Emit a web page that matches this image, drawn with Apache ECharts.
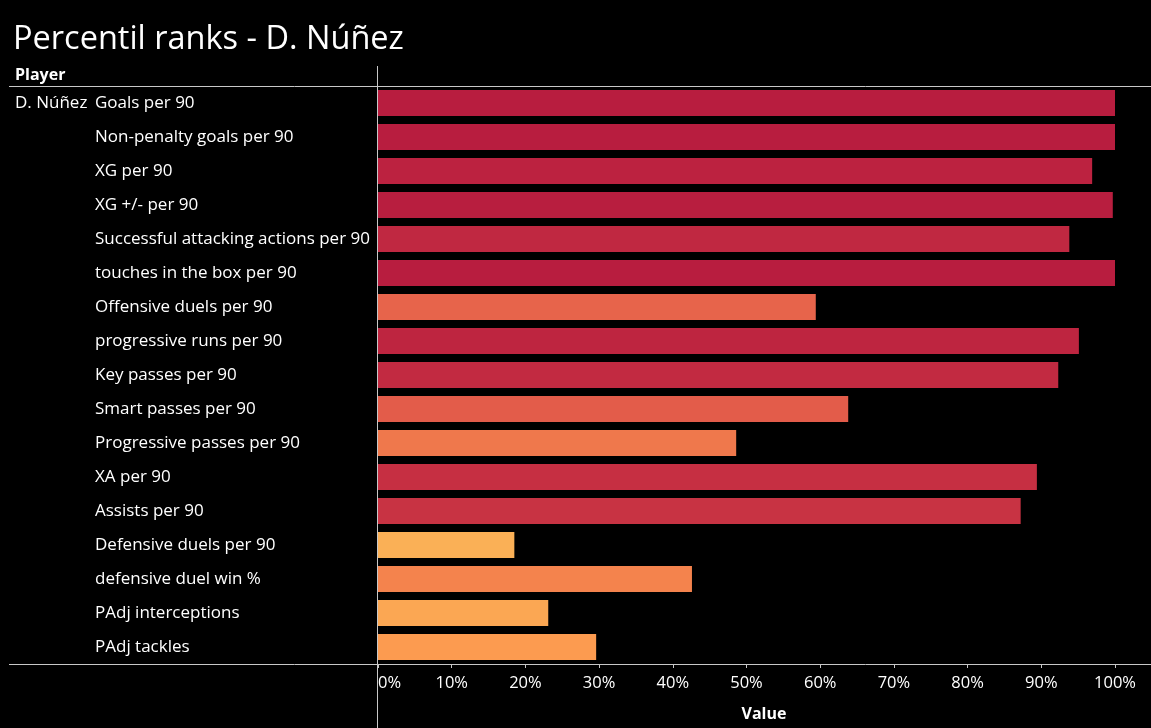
<!DOCTYPE html>
<html>
<head>
<meta charset="utf-8">
<script src="https://cdn.jsdelivr.net/npm/echarts@6/dist/echarts.min.js"></script>
<style>
html,body{margin:0;padding:0;background:#000;}
#chart{width:1151px;height:728px;}
</style>
</head>
<body>
<div id="chart"></div>
<script>
const playerName = 'D. Núñez';
const metrics = [
  'Goals per 90',
  'Non-penalty goals per 90',
  'XG per 90',
  'XG +/- per 90',
  'Successful attacking actions per 90',
  'touches in the box per 90',
  'Offensive duels per 90',
  'progressive runs per 90',
  'Key passes per 90',
  'Smart passes per 90',
  'Progressive passes per 90',
  'XA per 90',
  'Assists per 90',
  'Defensive duels per 90',
  'defensive duel win %',
  'PAdj interceptions',
  'PAdj tackles'
];
const percentiles = [100, 100, 96.9, 99.7, 93.8, 100, 59.4, 95.1, 92.3, 63.8, 48.6, 89.4, 87.2, 18.5, 42.6, 23.1, 29.6];
const colorStops = ['#ffd062', '#fcc15b', '#faad55', '#fc9a50', '#f6874d', '#ee764c', '#e7634b', '#dc5149', '#d14146', '#c52e42', '#b81d3f'];

const FONT = '"Open Sans"';
const chart = echarts.init(document.getElementById('chart'));
const lineColor = '#c8c8c8';

chart.setOption({
  backgroundColor: '#000',
  animation: false,
  title: {
    text: 'Percentil ranks - ' + playerName,
    left: 8, top: 18,
    textStyle: {color: '#fff', fontFamily: FONT, fontSize: 32.5, fontWeight: 'normal'}
  },
  grid: {left: 378, right: 36, top: 86, bottom: 64, containLabel: false},
  visualMap: {
    show: false, type: 'continuous', min: 0, max: 100, dimension: 0,
    inRange: {color: colorStops}
  },
  xAxis: {
    type: 'value', min: 0, max: 100, interval: 10,
    splitLine: {show: false},
    axisLine: {show: false},
    axisTick: {show: true, length: 4, lineStyle: {color: lineColor}},
    axisLabel: {
      formatter: '{value}%', color: '#fff', fontFamily: FONT, fontSize: 16.5, margin: 11,
      alignMinLabel: 'left', alignMaxLabel: 'center'
    }
  },
  yAxis: {
    type: 'category', data: metrics, inverse: true,
    axisLine: {show: false}, axisTick: {show: false},
    axisLabel: {color: '#fff', fontFamily: FONT, fontSize: 17, align: 'left', margin: 283}
  },
  series: [{
    type: 'bar', data: percentiles, barWidth: 26
  }],
  graphic: [
    {type: 'line', shape: {x1: 9, y1: 86.5, x2: 1151, y2: 86.5}, style: {stroke: lineColor, lineWidth: 1}, z: 100},
    {type: 'line', shape: {x1: 9, y1: 664.5, x2: 1151, y2: 664.5}, style: {stroke: lineColor, lineWidth: 1}, z: 100},
    {type: 'line', shape: {x1: 377.5, y1: 66, x2: 377.5, y2: 728}, style: {stroke: lineColor, lineWidth: 1}, z: 100},
    {type: 'text', x: 15, y: 75, style: {text: 'Player', fill: '#fff', font: 'bold 16px ' + FONT, verticalAlign: 'middle'}},
    {type: 'text', x: 15, y: 103, style: {text: playerName, fill: '#fff', font: '17px ' + FONT, verticalAlign: 'middle'}},
    {type: 'text', x: 764, y: 714, style: {text: 'Value', fill: '#fff', font: 'bold 16px ' + FONT, align: 'center', verticalAlign: 'middle'}}
  ]
});
</script>
</body>
</html>
